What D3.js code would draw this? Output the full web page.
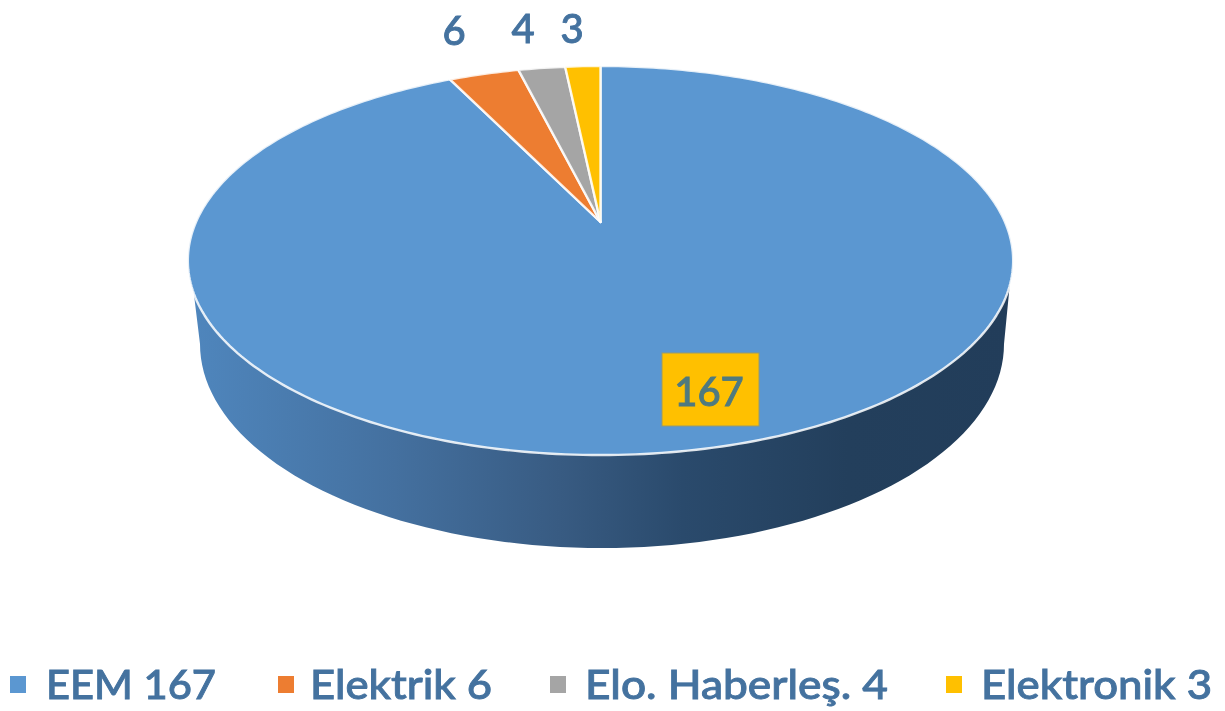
<!DOCTYPE html>
<html><head><meta charset="utf-8">
<script src="https://cdn.jsdelivr.net/npm/d3@7"></script>
<style>html,body{margin:0;padding:0;background:#fff}svg{display:block;filter:blur(0.6px)}text{font-family:Lato,sans-serif}</style>
</head><body><svg id="c" width="1225" height="711"></svg>
<script>
const categories = ["EEM","Elektrik","Elo. Haberleş.","Elektronik"];
const values = [167,6,4,3];
const colors = ["#5b97d1","#ed7d31","#a5a5a5","#ffc000"];
const textColor = "#44729f";

const svg = d3.select("#c");
const W = 1225, H = 711;

// Tilted-disc projection: unit circle -> screen through a perspective divide
const persp = -0.198;
const sx = d3.scaleLinear().domain([-1,1]).range([600.5-404.5,600.5+404.5]);
const sy = d3.scaleLinear().domain([-1,1]).range([222-186.9,222+186.9]);
const project = (a,r=1) => {
  const X = r*Math.sin(a), Y = -r*Math.cos(a), w = 1+persp*Y;
  return [sx(X/w), sy(Y/w)];
};
const arcPath = (a0,a1,apex=true) => {
  const p = d3.path();
  const n = Math.max(4, Math.ceil((a1-a0)/(Math.PI/180)));
  const c = project(0,0);
  if (apex) p.moveTo(c[0],c[1]);
  for (let i=0;i<=n;i++){
    const q = project(a0+(a1-a0)*i/n);
    if (i===0 && !apex) p.moveTo(q[0],q[1]); else p.lineTo(q[0],q[1]);
  }
  if (apex) p.closePath();
  return p.toString();
};

// pie: the small slices finish at 12 o'clock, EEM starts there
const arcs = d3.pie().sort(null).value(d=>d)(values);

const defs = svg.append("defs");
const grad = defs.append("linearGradient").attr("id","side")
  .attr("gradientUnits","userSpaceOnUse").attr("x1",190).attr("x2",1012).attr("y1",0).attr("y2",0);
[[0,"#4f86bd"],[0.25,"#44709f"],[0.45,"#385b82"],[0.6,"#2a4a6c"],[0.8,"#233f5c"],[1,"#223d5a"]]
  .forEach(([o,c])=>grad.append("stop").attr("offset",o).attr("stop-color",c));

// side wall: lower rim ellipse joined to the widest points of the top disc
const lowX = d3.scaleLinear().domain([-1,1]).range([200,1004]);
const lowY = d3.scaleLinear().domain([-1,1]).range([344-204,344+204]);
const rim = d3.path();
rim.moveTo(190,262);
d3.range(180,-1,-2).forEach(d=>{
  const t=d*Math.PI/180;
  rim.lineTo(lowX(Math.cos(t)), lowY(Math.sin(t)));
});
rim.lineTo(1012,262);
rim.closePath();
svg.append("path").attr("d",rim.toString()).attr("fill","url(#side)");

// top disc
svg.append("g").selectAll("path").data(arcs).join("path")
  .attr("d",d=>arcPath(d.startAngle,d.endAngle))
  .attr("fill",(d,i)=>colors[i])
  .attr("stroke","#fff").attr("stroke-opacity",0.85).attr("stroke-width",2.4).attr("stroke-linejoin","round");

// data labels
const labelPos = [[709,391],[454,30],[523,28],[572,28]];
svg.append("rect").attr("x",662).attr("y",353).attr("width",97).attr("height",73)
  .attr("fill",colors[3]).attr("stroke","#9a9a6a").attr("stroke-width",1);
svg.append("g").selectAll("text").data(values).join("text")
  .attr("x",(d,i)=>labelPos[i][0]).attr("y",(d,i)=>labelPos[i][1])
  .attr("text-anchor","middle").attr("dominant-baseline","central")
  .attr("font-size",40).attr("font-weight",500)
  .attr("fill",(d,i)=>i===0?"#4f7a7f":textColor)
  .attr("stroke",(d,i)=>i===0?"#4f7a7f":textColor).attr("stroke-width",0.9).text(d=>d);

// legend
const swatchX = [10,278,550,946];
const textX = [46,310,585,981];
const textW = [170,182,303,231];
const lg = svg.append("g").selectAll("g").data(categories).join("g");
lg.append("rect").attr("x",(d,i)=>swatchX[i]).attr("y",676).attr("width",16).attr("height",17)
  .attr("fill",(d,i)=>colors[i]);
lg.append("text").attr("x",(d,i)=>textX[i]).attr("y",699)
  .attr("textLength",(d,i)=>textW[i]).attr("lengthAdjust","spacingAndGlyphs")
  .attr("font-size",41).attr("font-weight",500).attr("fill",textColor)
  .attr("stroke",textColor).attr("stroke-width",0.9)
  .text((d,i)=>`${d} ${values[i]}`);
</script></body></html>
